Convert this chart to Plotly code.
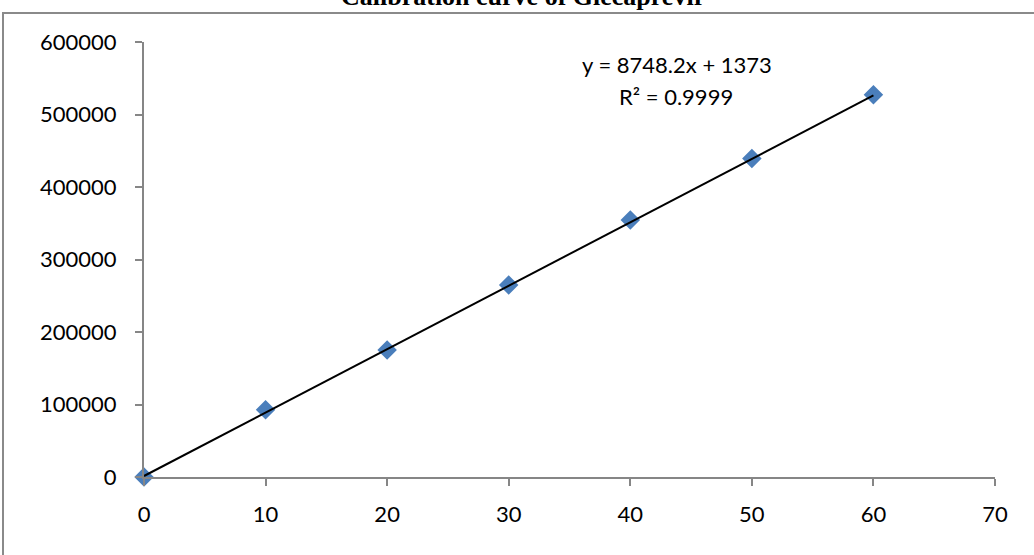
import plotly.graph_objects as go

# Calibration data: concentration vs. peak area
concentration = [0, 10, 20, 30, 40, 50, 60]
peak_area = [0, 92700, 175200, 264800, 354500, 439400, 527100]

# Linear trendline parameters
slope = 8748.2
intercept = 1373
r_squared = 0.9999

x_ticks = [0, 10, 20, 30, 40, 50, 60, 70]
y_ticks = [0, 100000, 200000, 300000, 400000, 500000, 600000]

W, H = 1034, 555
ML, MR, MT, MB = 144, 39, 42, 78
PW, PH = W - ML - MR, H - MT - MB

def px_x(px):
    return (px - ML) / PW

def px_y(py):
    return (H - MB - py) / PH

label_font = dict(family="Lato, Open Sans, sans-serif", size=22, color="#000000")
axis_grey = "#868686"

fig = go.Figure()

fit_x = [concentration[0], concentration[-1]]
fit_y = [slope * v + intercept for v in fit_x]
fig.add_trace(go.Scatter(
    x=concentration, y=peak_area, mode="markers",
    marker=dict(symbol="diamond", size=15, color="#4A7EBB",
                line=dict(width=0)),
    showlegend=False, cliponaxis=False,
))
fig.add_trace(go.Scatter(
    x=fit_x, y=fit_y, mode="lines",
    line=dict(color="#000000", width=2),
    showlegend=False, cliponaxis=False,
))

fig.update_layout(
    width=W, height=H,
    margin=dict(l=ML, r=MR, t=MT, b=MB),
    paper_bgcolor="white", plot_bgcolor="white",
    xaxis=dict(
        range=[0, 70], tickvals=x_ticks, ticktext=[str(v) for v in x_ticks],
        showgrid=False, zeroline=False, showline=True, linecolor=axis_grey,
        linewidth=2, ticks="outside", ticklen=7, tickwidth=2, tickcolor=axis_grey,
        tickfont=label_font, ticklabelstandoff=10,
    ),
    yaxis=dict(
        range=[0, 600000], tickvals=y_ticks, ticktext=[str(v) for v in y_ticks],
        showgrid=False, zeroline=False, showline=True, linecolor=axis_grey,
        linewidth=2, ticks="outside", ticklen=7, tickwidth=2, tickcolor=axis_grey,
        tickfont=label_font, ticklabelstandoff=14,
    ),
    shapes=[
        dict(type="rect", xref="paper", yref="paper",
             x0=px_x(3), x1=px_x(W + 20), y0=px_y(H + 20), y1=px_y(13),
             line=dict(color="#8a8a8a", width=2), fillcolor="rgba(0,0,0,0)",
             layer="below"),
    ],
    annotations=[
        dict(text="<b>Calibration curve of Glecaprevir</b>", xref="paper", yref="paper",
             x=px_x(523), y=px_y(7), xanchor="center", yanchor="bottom",
             showarrow=False, yshift=-6,
             font=dict(family="Liberation Serif, Times New Roman, serif", size=26,
                       color="#000000")),
        dict(text=f"y = {slope}x + {intercept}", xref="paper", yref="paper",
             x=px_x(677), y=px_y(65), xanchor="center", yanchor="middle",
             showarrow=False, font=label_font),
        dict(text=f"R² = {r_squared}", xref="paper", yref="paper",
             x=px_x(676), y=px_y(97), xanchor="center", yanchor="middle",
             showarrow=False, font=label_font),
    ],
)

fig.write_html("out.html")
